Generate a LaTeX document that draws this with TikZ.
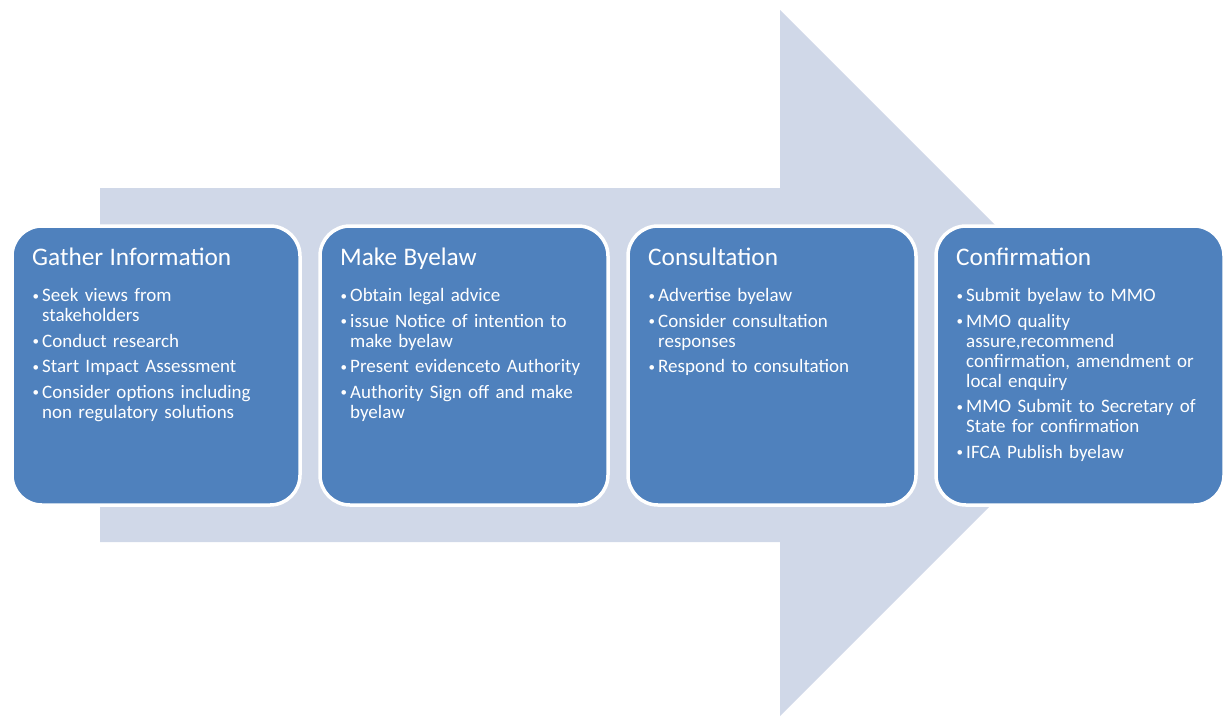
\documentclass[tikz,border=0pt]{standalone}
\usepackage{fontspec}
\setmainfont{Carlito}
\usepackage{tikz}
\usetikzlibrary{positioning}

\definecolor{stageblue}{HTML}{4F81BD}
\definecolor{arrowgrey}{HTML}{D0D8E8}

\newcommand{\stagetitle}[1]{{\fontsize{25.3pt}{26pt}\selectfont #1\par}\vspace{10.5pt}}
\newcommand{\stageitem}[1]{\par\vspace{5.5pt}{\let\\\newline\noindent\hangindent=10pt\hangafter=1
	\makebox[10pt][l]{\hspace{0.5pt}\raisebox{1.5pt}{\fontsize{13pt}{13pt}\selectfont\textbullet}}%
	#1\par}}

\begin{document}
\begin{tikzpicture}[x=1pt,y=-1pt,
stagebox/.style={draw=white,line width=3.5pt,fill=stageblue,rounded corners=30pt,
  minimum width=288pt,minimum height=279pt,outer sep=0pt,inner sep=0pt,anchor=north west},
stagetext/.style={text=white,text width=265pt,align=left,inner sep=0pt,anchor=north west,
  font=\fontsize{19pt}{20pt}\selectfont}]

\useasboundingbox (0,0) rectangle (1226,716);

% Big arrow behind
\fill[arrowgrey] (100,188) -- (780,188) -- (780,10) -- (1133,363) -- (780,716)
	-- (780,542) -- (100,542) -- cycle;

% Boxes
\node[stagebox] (gather) at (12,226) {};
\node[stagebox, right=20pt of gather] (byelaw) {};
\node[stagebox, right=20pt of byelaw] (consult) {};
\node[stagebox, right=20pt of consult] (confirm) {};

% Texts
\node[stagetext] (gathertext) at ([xshift=20pt,yshift=-22pt]gather.north west) {%
	\stagetitle{Gather Information}
	\stageitem{Seek views from\\stakeholders}
	\stageitem{Conduct research}
	\stageitem{Start Impact Assessment}
	\stageitem{Consider options including\\non regulatory solutions}};
\node[stagetext] (byelawtext) at ([xshift=20pt,yshift=-22pt]byelaw.north west) {%
	\stagetitle{Make Byelaw}
	\stageitem{Obtain legal advice}
	\stageitem{issue Notice of intention to\\make byelaw}
	\stageitem{Present evidenceto Authority}
	\stageitem{Authority Sign off and make\\byelaw}};
\node[stagetext] (consulttext) at ([xshift=20pt,yshift=-22pt]consult.north west) {%
	\stagetitle{Consultation}
	\stageitem{Advertise byelaw}
	\stageitem{Consider consultation\\responses}
	\stageitem{Respond to consultation}};
\node[stagetext] (confirmtext) at ([xshift=20pt,yshift=-22pt]confirm.north west) {%
	\stagetitle{Confirmation}
	\stageitem{Submit byelaw to MMO}
	\stageitem{MMO quality\\assure,recommend\\confirmation, amendment or\\local enquiry}
	\stageitem{MMO Submit to Secretary of\\State for confirmation}
	\stageitem{IFCA Publish byelaw}};

\end{tikzpicture}
\end{document}
